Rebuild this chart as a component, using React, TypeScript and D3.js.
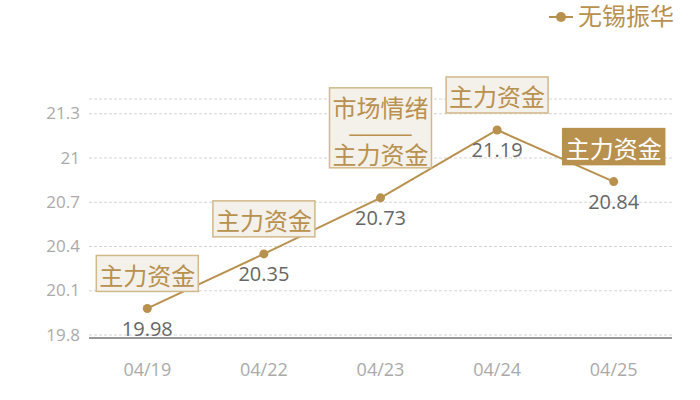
import { useEffect, useRef } from "react";
import * as d3 from "d3";

const dates = ["04/19", "04/22", "04/23", "04/24", "04/25"];
const prices = [19.98, 20.35, 20.73, 21.19, 20.84];
const notes = [["主力资金"], ["主力资金"], ["市场情绪", "——", "主力资金"], ["主力资金"], ["主力资金"]];
const highlighted = [false, false, false, false, true];
const yTicks = [19.8, 20.1, 20.4, 20.7, 21, 21.3];
const seriesName = "无锡振华";

const GOLD = "#b8914f";
const FONT = "'Noto Sans CJK SC', sans-serif";
const NUM_FONT = "'Open Sans', 'Noto Sans CJK SC', sans-serif";

export default function App() {
  const ref = useRef<SVGSVGElement>(null);

  useEffect(() => {
    const width = 700;
    const margin = { top: 99, right: 28, bottom: 65, left: 89 };

    const svg = d3.select(ref.current);
    svg.selectAll("*").remove();

    const x = d3
      .scalePoint<string>()
      .domain(dates)
      .range([margin.left, width - margin.right])
      .padding(0.5);

    const y = d3
      .scaleLinear()
      .domain([19.8, 21.4])
      .range([335, margin.top]);

    // grid lines
    svg
      .append("g")
      .selectAll("line")
      .data([...yTicks, 21.4])
      .enter()
      .append("line")
      .attr("x1", margin.left)
      .attr("x2", width - margin.right)
      .attr("y1", (d) => y(d))
      .attr("y2", (d) => y(d))
      .attr("stroke", "#d4d4d4")
      .attr("stroke-dasharray", "3,2");

    // y labels
    svg
      .append("g")
      .selectAll("text")
      .data(yTicks)
      .enter()
      .append("text")
      .attr("x", 80)
      .attr("y", (d) => y(d) + 1)
      .attr("text-anchor", "end")
      .attr("dominant-baseline", "middle")
      .attr("fill", "#aaaaaa")
      .attr("font-size", 17)
      .attr("font-family", NUM_FONT)
      .text((d) => String(d));

    // x axis line
    svg
      .append("line")
      .attr("x1", margin.left)
      .attr("x2", width - margin.right)
      .attr("y1", 338)
      .attr("y2", 338)
      .attr("stroke", "#333")
      .attr("stroke-width", 1);

    svg
      .append("g")
      .selectAll("text")
      .data(dates)
      .enter()
      .append("text")
      .attr("x", (d) => x(d) as number)
      .attr("y", 371)
      .attr("text-anchor", "middle")
      .attr("dominant-baseline", "middle")
      .attr("fill", "#aaaaaa")
      .attr("font-size", 18)
      .attr("font-family", NUM_FONT)
      .text((d) => d);

    // line
    const line = d3
      .line<number>()
      .x((_, i) => x(dates[i]) as number)
      .y((d) => y(d));

    svg
      .append("path")
      .datum(prices)
      .attr("d", line)
      .attr("fill", "none")
      .attr("stroke", GOLD)
      .attr("stroke-width", 2);

    svg
      .append("g")
      .selectAll("circle")
      .data(prices)
      .enter()
      .append("circle")
      .attr("cx", (_, i) => x(dates[i]) as number)
      .attr("cy", (d) => y(d))
      .attr("r", 4.5)
      .attr("fill", GOLD);

    // value labels
    svg
      .append("g")
      .selectAll("text")
      .data(prices)
      .enter()
      .append("text")
      .attr("x", (_, i) => x(dates[i]) as number)
      .attr("y", (d) => y(d) + 22)
      .attr("text-anchor", "middle")
      .attr("dominant-baseline", "middle")
      .attr("fill", "#666666")
      .attr("font-size", 20)
      .attr("font-family", NUM_FONT)
      .text((d) => d.toFixed(2));

    // annotation boxes
    prices.forEach((v, i) => {
      const cx = x(dates[i]) as number;
      const lines = notes[i];
      const multi = lines.length > 1;
      const boxW = 102;
      const boxH = multi ? 80 : 36;
      const bottom = y(v) - (multi ? 30 : 17);
      const top = bottom - boxH;
      const g = svg.append("g");
      g.append("rect")
        .attr("x", cx - boxW / 2)
        .attr("y", top)
        .attr("width", boxW)
        .attr("height", boxH)
        .attr("fill", highlighted[i] ? GOLD : "#f4f0ea")
        .attr("stroke", highlighted[i] ? GOLD : "#d2b88a")
        .attr("stroke-width", 1.5);
      const offsets = multi ? [18, 43, 65] : [boxH / 2];
      lines.forEach((t, k) => {
        const txt = g
          .append("text")
          .attr("x", cx)
          .attr("y", top + offsets[k] + 1)
          .attr("text-anchor", "middle")
          .attr("dominant-baseline", "central")
          .attr("fill", highlighted[i] ? "#ffffff" : GOLD)
          .attr("font-size", 24)
          .attr("font-family", FONT)
          .text(t);
        if (t === "——") {
          txt.attr("textLength", 66).attr("lengthAdjust", "spacingAndGlyphs");
        }
      });
    });

    // legend
    const lg = svg.append("g");
    lg.append("line")
      .attr("x1", 549)
      .attr("x2", 573)
      .attr("y1", 17)
      .attr("y2", 17)
      .attr("stroke", GOLD)
      .attr("stroke-width", 2);
    lg.append("circle").attr("cx", 561).attr("cy", 17).attr("r", 5).attr("fill", GOLD);
    lg.append("text")
      .attr("x", 578)
      .attr("y", 18)
      .attr("dominant-baseline", "middle")
      .attr("fill", GOLD)
      .attr("font-size", 24)
      .attr("font-family", FONT)
      .text(seriesName);
  }, []);

  return (
    <svg
      ref={ref}
      width={700}
      height={400}
      style={{ position: "absolute", left: 0, top: 0, background: "#fff" }}
    />
  );
}
